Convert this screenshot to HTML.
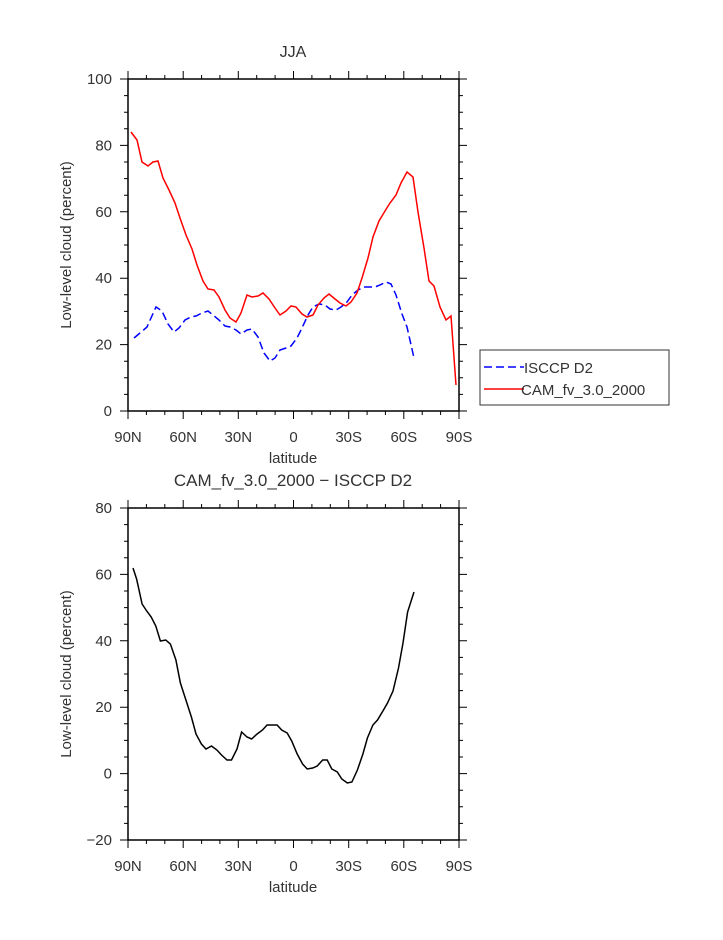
<!DOCTYPE html>
<html><head><style>body{margin:0;background:#fff}svg text{font-family:"Liberation Sans",sans-serif;fill:#333}</style></head>
<body>
<svg width="723" height="935" xmlns="http://www.w3.org/2000/svg">
<defs>
<g id="ax" stroke="#000" fill="none">
<rect x="128" y="79" width="331" height="332" stroke-width="1.5"/>
<path d="M128 79v-8M183.2 79v-8M238.3 79v-8M293.5 79v-8M348.7 79v-8M403.8 79v-8M459 79v-8
M146.4 79v-4M164.8 79v-4M201.6 79v-4M219.9 79v-4M256.7 79v-4M275.1 79v-4M311.9 79v-4M330.3 79v-4M367.1 79v-4M385.4 79v-4M422.2 79v-4M440.6 79v-4
M128 411v8M183.2 411v8M238.3 411v8M293.5 411v8M348.7 411v8M403.8 411v8M459 411v8
M146.4 411v4M164.8 411v4M201.6 411v4M219.9 411v4M256.7 411v4M275.1 411v4M311.9 411v4M330.3 411v4M367.1 411v4M385.4 411v4M422.2 411v4M440.6 411v4
M128 411h-8M128 344.6h-8M128 278.2h-8M128 211.8h-8M128 145.4h-8M128 79h-8
M459 411h8M459 344.6h8M459 278.2h8M459 211.8h8M459 145.4h8M459 79h8
M128 394.4h-4M128 377.8h-4M128 361.2h-4M128 328h-4M128 311.4h-4M128 294.8h-4M128 261.6h-4M128 245h-4M128 228.4h-4M128 195.2h-4M128 178.6h-4M128 162h-4M128 128.8h-4M128 112.2h-4M128 95.6h-4
M459 394.4h4M459 377.8h4M459 361.2h4M459 328h4M459 311.4h4M459 294.8h4M459 261.6h4M459 245h4M459 228.4h4M459 195.2h4M459 178.6h4M459 162h4M459 128.8h4M459 112.2h4M459 95.6h4"/>
</g>
</defs>
<use href="#ax"/>
<use href="#ax" transform="translate(0,429)"/>

<g font-size="15" text-anchor="end">
<text x="112" y="416">0</text><text x="112" y="349.6">20</text><text x="112" y="283.2">40</text><text x="112" y="216.8">60</text><text x="112" y="150.4">80</text><text x="112" y="84">100</text>
<text x="112" y="845">−20</text><text x="112" y="778.6">0</text><text x="112" y="712.2">20</text><text x="112" y="645.8">40</text><text x="112" y="579.4">60</text><text x="112" y="513">80</text>
</g>
<g font-size="15" text-anchor="middle">
<text x="128" y="442">90N</text><text x="183.2" y="442">60N</text><text x="238.3" y="442">30N</text><text x="293.5" y="442">0</text><text x="348.7" y="442">30S</text><text x="403.8" y="442">60S</text><text x="459" y="442">90S</text>
<text x="128" y="871">90N</text><text x="183.2" y="871">60N</text><text x="238.3" y="871">30N</text><text x="293.5" y="871">0</text><text x="348.7" y="871">30S</text><text x="403.8" y="871">60S</text><text x="459" y="871">90S</text>
<text x="293" y="463">latitude</text><text x="293" y="892">latitude</text>
<text transform="translate(71,245) rotate(-90)">Low-level cloud (percent)</text>
<text transform="translate(71,674) rotate(-90)">Low-level cloud (percent)</text>
<text x="293" y="57" font-size="16">JJA</text>
<text x="293" y="486" font-size="17">CAM_fv_3.0_2000 − ISCCP D2</text>
</g>

<polyline fill="none" stroke="#0000ff" stroke-width="1.5" stroke-dasharray="8,4" points="134,338 140,333 147,327 151,318 156,307 162,311 168,324 174,332 179,328 185,320 191,317 196,316 202,313 208,311 213,315 219,320 225,326 230,327 236,330 241,334 247,330 252,329 258,337 264,353 270,361 275,358 280,350 286,348 291,346 297,338 302,328 308,315 313,307 319,304 325,305 330,309 336,310 341,307 347,302 352,295 358,290 364,287 369,287 375,287 380,285 386,282 391,284 396,295 402,314 407,327 414,358"/>
<polyline fill="none" stroke="#ff0000" stroke-width="1.5" points="131,132 137,140 142,162 148,166 153,162 158,161 163,178 169,190 175,203 180,218 186,235 192,249 197,265 203,281 208,289 214,290 219,297 225,310 230,318 236,322 241,313 247,295 252,297 258,296 263,293 269,299 275,308 280,315 286,311 291,306 296,307 302,314 307,317 313,315 318,305 324,298 329,294 335,299 340,303 346,306 351,302 357,293 362,278 368,258 373,237 379,221 385,211 390,203 396,195 401,183 407,172 413,177 418,212 424,248 429,281 434,286 440,307 446,320 451,316 456,385"/>
<polyline fill="none" stroke="#000" stroke-width="1.5" points="133,568 136.6,579 142.1,604 146.7,611 151.2,617 155.8,626 160.4,641 165.8,640 170.4,644 175.9,660 180.4,683 185.9,700 191.4,717 196,734 201.4,744 206,749 211.5,746 216.9,750 221.5,755 227,760 231.5,760 237,749 241.6,732 247,737 251.6,739 257.1,734 262.5,730 267.1,725 272.6,725 277.1,725 281.7,730 287.2,733 291.7,741 297.2,754 302.6,764 307.2,769 312.7,768 317.2,766 322.7,760 327.2,760 331.8,769 337.3,772 341.8,779 347.3,783 351.9,782 357.4,770 362.9,754 367.4,738 372.9,725 377.5,720 382.9,711 387.5,703 393,691 398.5,668 403,643 407.6,612 414,592"/>

<rect x="480" y="350" width="189" height="55" fill="#fff" stroke="#333"/>
<line x1="484" y1="367" x2="524" y2="367" stroke="#00f" stroke-width="1.5" stroke-dasharray="8,4"/>
<text x="524" y="373" font-size="15">ISCCP D2</text>
<line x1="484" y1="389" x2="524" y2="389" stroke="#f00" stroke-width="1.5"/>
<text x="521" y="395" font-size="15">CAM_fv_3.0_2000</text>
</svg>
</body></html>
